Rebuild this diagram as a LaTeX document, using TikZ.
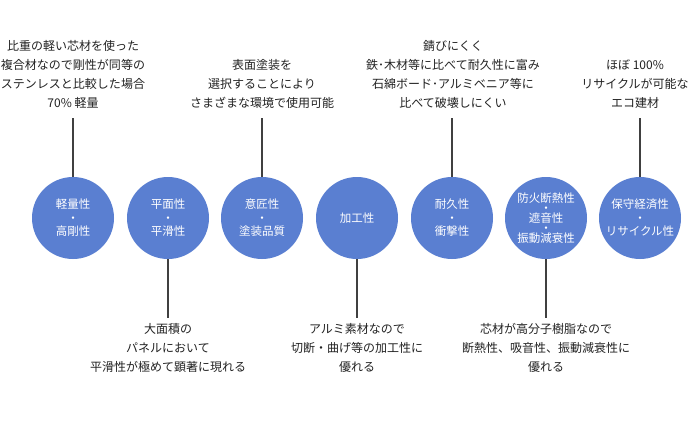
\documentclass[tikz,border=0pt]{standalone}
\usepackage{fontspec}
\setmainfont{Noto Sans CJK JP}
\usetikzlibrary{calc}
\definecolor{circblue}{RGB}{90,127,209}
\definecolor{linegray}{RGB}{64,64,64}
\definecolor{txtgray}{RGB}{34,34,34}
\tikzset{
  circ/.style={circle,fill=circblue,draw=none,minimum size=82pt,inner sep=0pt,text=white,align=center,
    font={\fontsize{11.5}{13.5}\selectfont\lineskiplimit=-100pt}},
  circtight/.style={circ,font={\fontsize{11.5}{10}\selectfont\lineskiplimit=-100pt}},
  desc/.style={align=center,text=txtgray,inner sep=0pt,font={\fontsize{12}{19}\selectfont\lineskiplimit=-100pt}},
  conn/.style={draw=linegray,line width=1.3pt}
}
\begin{document}
\begin{tikzpicture}[x=1pt,y=-1pt]
\useasboundingbox (0,0) rectangle (696,437);
\fill[white] (0,0) rectangle (696,437);
% circles
\node[circ] (c1) at (73,218) {軽量性\\・\\高剛性};
\node[circ] (c2) at (168,218) {平面性\\・\\平滑性};
\node[circ] (c3) at (262,218) {意匠性\\・\\塗装品質};
\node[circ] (c4) at (357,218) {加工性};
\node[circ] (c5) at (452,218) {耐久性\\・\\衝撃性};
\node[circtight] (c6) at (546,218) {防火断熱性\\・\\遮音性\\・\\振動減衰性};
\node[circ] (c7) at (640,218) {保守経済性\\・\\リサイクル性};
% descriptions top
\node[desc] (t1) at (73,74.5) {比重の軽い芯材を使った\\複合材なので剛性が同等の\\ステンレスと比較した場合\\70\% 軽量};
\node[desc] (t3) at (262,84) {表面塗装を\\選択することにより\\さまざまな環境で使用可能};
\node[desc] (t5) at (453,74.5) {錆びにくく\\鉄･木材等に比べて耐久性に富み\\石綿ボード･アルミベニア等に\\比べて破壊しにくい};
\node[desc] (t7) at (635,84) {ほぼ 100\%\\リサイクルが可能な\\エコ建材};
% descriptions bottom
\node[desc] (b2) at (168,348) {大面積の\\パネルにおいて\\平滑性が極めて顕著に現れる};
\node[desc] (b4) at (357,348) {アルミ素材なので\\切断・曲げ等の加工性に\\優れる};
\node[desc] (b6) at (546,348) {芯材が高分子樹脂なので\\断熱性、吸音性、振動減衰性に\\優れる};
% connector ends
\coordinate (e1) at (73,118);
\coordinate (e3) at (262,118);
\coordinate (e5) at (452,118);
\coordinate (e7) at (640,118);
\coordinate (f2) at (168,318);
\coordinate (f4) at (357,318);
\coordinate (f6) at (546,318);
\draw[conn] (c1.north) -- (e1);
\draw[conn] (c3.north) -- (e3);
\draw[conn] (c5.north) -- (e5);
\draw[conn] (c7.north) -- (e7);
\draw[conn] (c2.south) -- (f2);
\draw[conn] (c4.south) -- (f4);
\draw[conn] (c6.south) -- (f6);
\end{tikzpicture}
\end{document}
